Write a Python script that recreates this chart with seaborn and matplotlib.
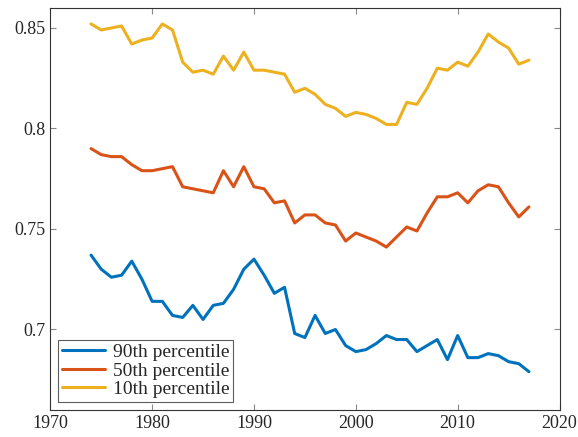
import matplotlib
matplotlib.use("Agg")
import matplotlib.pyplot as plt
import pandas as pd
import seaborn as sns

years = list(range(1974, 2018))
p10 = [.852, .849, .850, .851, .842, .844, .845, .852, .849, .833,
       .828, .829, .827, .836, .829, .838, .829, .829, .828, .827,
       .818, .820, .817, .812, .810, .806, .808, .807, .805, .802,
       .802, .813, .812, .820, .830, .829, .833, .831, .838, .847,
       .843, .840, .832, .834]
p50 = [.790, .787, .786, .786, .782, .779, .779, .780, .781, .771,
       .770, .769, .768, .779, .771, .781, .771, .770, .763, .764,
       .753, .757, .757, .753, .752, .744, .748, .746, .744, .741,
       .746, .751, .749, .758, .766, .766, .768, .763, .769, .772,
       .771, .763, .756, .761]
p90 = [.737, .730, .726, .727, .734, .725, .714, .714, .707, .706,
       .712, .705, .712, .713, .720, .730, .735, .727, .718, .721,
       .698, .696, .707, .698, .700, .692, .689, .690, .693, .697,
       .695, .695, .689, .692, .695, .685, .697, .686, .686, .688,
       .687, .684, .683, .679]
labels = ["90th percentile", "50th percentile", "10th percentile"]
colors = ["#0072BD", "#D95319", "#EDB120"]

df = pd.DataFrame({"year": years, labels[0]: p90, labels[1]: p50, labels[2]: p10})
long = df.melt(id_vars="year", var_name="series", value_name="value")

sns.set_style("white")
plt.rcParams["font.family"] = ["Liberation Serif", "DejaVu Serif"]

fig, ax = plt.subplots(figsize=(5.78, 4.37), dpi=100)
sns.lineplot(data=long, x="year", y="value", hue="series", hue_order=labels,
             palette=colors, linewidth=2.2, ax=ax)
ax.set_xlim(1970, 2020)
ax.set_ylim(0.66, 0.86)
ax.set_xticks([1970, 1980, 1990, 2000, 2010, 2020])
ax.set_yticks([0.7, 0.75, 0.8, 0.85])
ax.set_yticklabels(["0.7", "0.75", "0.8", "0.85"])
ax.set_xlabel("")
ax.set_ylabel("")
ax.tick_params(direction="in", length=4, color="#888888", labelsize=13,
               top=True, right=True, bottom=True, left=True)
for s in ax.spines.values():
    s.set_color("#333333")
    s.set_linewidth(0.8)
leg = ax.legend(loc="lower left", fontsize=14, frameon=True, fancybox=False,
                borderpad=0.2, labelspacing=0.05, handlelength=2.2,
                handletextpad=0.4, borderaxespad=0.4)
leg.get_frame().set_edgecolor("#333333")
leg.get_frame().set_linewidth(0.8)
plt.subplots_adjust(left=0.087, right=0.968, top=0.982, bottom=0.062)
fig.savefig("out.png")
